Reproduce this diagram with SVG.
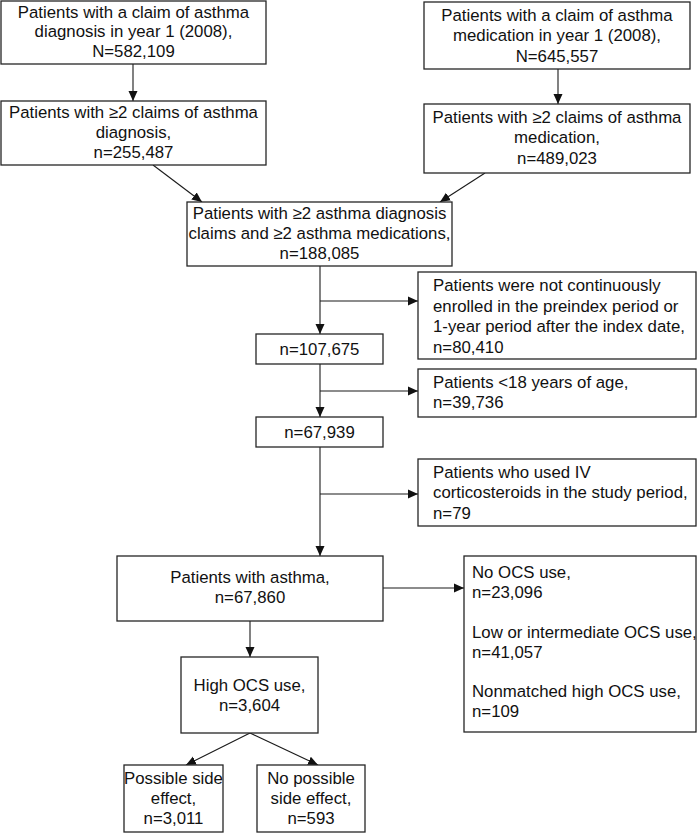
<svg xmlns="http://www.w3.org/2000/svg" width="697" height="833" viewBox="0 0 697 833">
<style>
.box{fill:#fff;stroke:#262626;stroke-width:1.3}
.t{font-family:"Liberation Sans",Arial,sans-serif;font-size:16.8px;fill:#111}
.c{text-anchor:middle}
.ln{fill:none;stroke:#1a1a1a;stroke-width:1.1}
</style>
<defs>
<marker id="ah" markerUnits="userSpaceOnUse" markerWidth="10" markerHeight="10" viewBox="0 0 10 10" refX="10" refY="5" orient="auto">
<path d="M0,0.5 L10,5 L0,9.5 z" fill="#111"/>
</marker>
</defs>
<rect width="697" height="833" fill="#fff"/>
<g id="connectors">
<line class="ln" x1="133" y1="64" x2="133" y2="101" marker-end="url(#ah)"/>
<line class="ln" x1="558" y1="69" x2="558" y2="104" marker-end="url(#ah)"/>
<line class="ln" x1="153" y1="165" x2="202" y2="202" marker-end="url(#ah)"/>
<line class="ln" x1="485" y1="173" x2="440" y2="202" marker-end="url(#ah)"/>
<line class="ln" x1="320" y1="266" x2="320" y2="334" marker-end="url(#ah)"/>
<line class="ln" x1="320" y1="301" x2="418" y2="301" marker-end="url(#ah)"/>
<line class="ln" x1="320" y1="364" x2="320" y2="417" marker-end="url(#ah)"/>
<line class="ln" x1="320" y1="391" x2="418" y2="391" marker-end="url(#ah)"/>
<line class="ln" x1="320" y1="447" x2="320" y2="556" marker-end="url(#ah)"/>
<line class="ln" x1="320" y1="494" x2="418" y2="494" marker-end="url(#ah)"/>
<line class="ln" x1="383" y1="588" x2="464" y2="588" marker-end="url(#ah)"/>
<line class="ln" x1="250" y1="621" x2="250" y2="657" marker-end="url(#ah)"/>
<line class="ln" x1="250" y1="733" x2="186" y2="765" marker-end="url(#ah)"/>
<line class="ln" x1="250" y1="733" x2="318" y2="765" marker-end="url(#ah)"/>
</g>
<g id="n1">
<rect class="box" x="1" y="1" width="265" height="63"/>
<text class="t c" x="133.5" y="18">Patients with a claim of asthma</text>
<text class="t c" x="133.5" y="37">diagnosis in year 1 (2008),</text>
<text class="t c" x="133.5" y="57">N=582,109</text>
</g>
<g id="n2">
<rect class="box" x="1" y="101" width="265" height="64"/>
<text class="t c" x="133.5" y="118">Patients with ≥2 claims of asthma</text>
<text class="t c" x="133.5" y="138">diagnosis,</text>
<text class="t c" x="133.5" y="158">n=255,487</text>
</g>
<g id="n3">
<rect class="box" x="424" y="2" width="266" height="67"/>
<text class="t c" x="557" y="21">Patients with a claim of asthma</text>
<text class="t c" x="557" y="41">medication in year 1 (2008),</text>
<text class="t c" x="557" y="62">N=645,557</text>
</g>
<g id="n4">
<rect class="box" x="424" y="104" width="266" height="69"/>
<text class="t c" x="557" y="123">Patients with ≥2 claims of asthma</text>
<text class="t c" x="557" y="143">medication,</text>
<text class="t c" x="557" y="164">n=489,023</text>
</g>
<g id="n5">
<rect class="box" x="187" y="202" width="265" height="64"/>
<text class="t c" x="319.5" y="219">Patients with ≥2 asthma diagnosis</text>
<text class="t c" x="319.5" y="239">claims and ≥2 asthma medications,</text>
<text class="t c" x="319.5" y="259">n=188,085</text>
</g>
<g id="n6">
<rect class="box" x="418" y="272" width="278" height="87"/>
<text class="t" x="433" y="291">Patients were not continuously</text>
<text class="t" x="433" y="312">enrolled in the preindex period or</text>
<text class="t" x="433" y="332">1-year period after the index date,</text>
<text class="t" x="433" y="353">n=80,410</text>
</g>
<g id="n7">
<rect class="box" x="256" y="334" width="127" height="30"/>
<text class="t c" x="319.5" y="355">n=107,675</text>
</g>
<g id="n8">
<rect class="box" x="418" y="369" width="278" height="48"/>
<text class="t" x="433" y="388">Patients &lt;18 years of age,</text>
<text class="t" x="433" y="408">n=39,736</text>
</g>
<g id="n9">
<rect class="box" x="256" y="417" width="127" height="30"/>
<text class="t c" x="319.5" y="438">n=67,939</text>
</g>
<g id="n10">
<rect class="box" x="418" y="459" width="278" height="67"/>
<text class="t" x="433" y="478">Patients who used IV</text>
<text class="t" x="433" y="498">corticosteroids in the study period,</text>
<text class="t" x="433" y="519">n=79</text>
</g>
<g id="n11">
<rect class="box" x="117" y="556" width="266" height="65"/>
<text class="t c" x="250" y="583">Patients with asthma,</text>
<text class="t c" x="250" y="603">n=67,860</text>
</g>
<g id="n12">
<rect class="box" x="464" y="556" width="232" height="176"/>
<text class="t" x="472" y="578">No OCS use,</text>
<text class="t" x="472" y="598">n=23,096</text>
<text class="t" x="472" y="638">Low or intermediate OCS use,</text>
<text class="t" x="472" y="658">n=41,057</text>
<text class="t" x="472" y="697">Nonmatched high OCS use,</text>
<text class="t" x="472" y="717">n=109</text>
</g>
<g id="n13">
<rect class="box" x="181" y="657" width="137" height="76"/>
<text class="t c" x="249.5" y="691">High OCS use,</text>
<text class="t c" x="249.5" y="711">n=3,604</text>
</g>
<g id="n14">
<rect class="box" x="124" y="765" width="99" height="67"/>
<text class="t c" x="173.5" y="784">Possible side</text>
<text class="t c" x="173.5" y="804">effect,</text>
<text class="t c" x="173.5" y="824">n=3,011</text>
</g>
<g id="n15">
<rect class="box" x="257" y="765" width="108" height="67"/>
<text class="t c" x="311" y="784">No possible</text>
<text class="t c" x="311" y="804">side effect,</text>
<text class="t c" x="311" y="824">n=593</text>
</g>
</svg>
